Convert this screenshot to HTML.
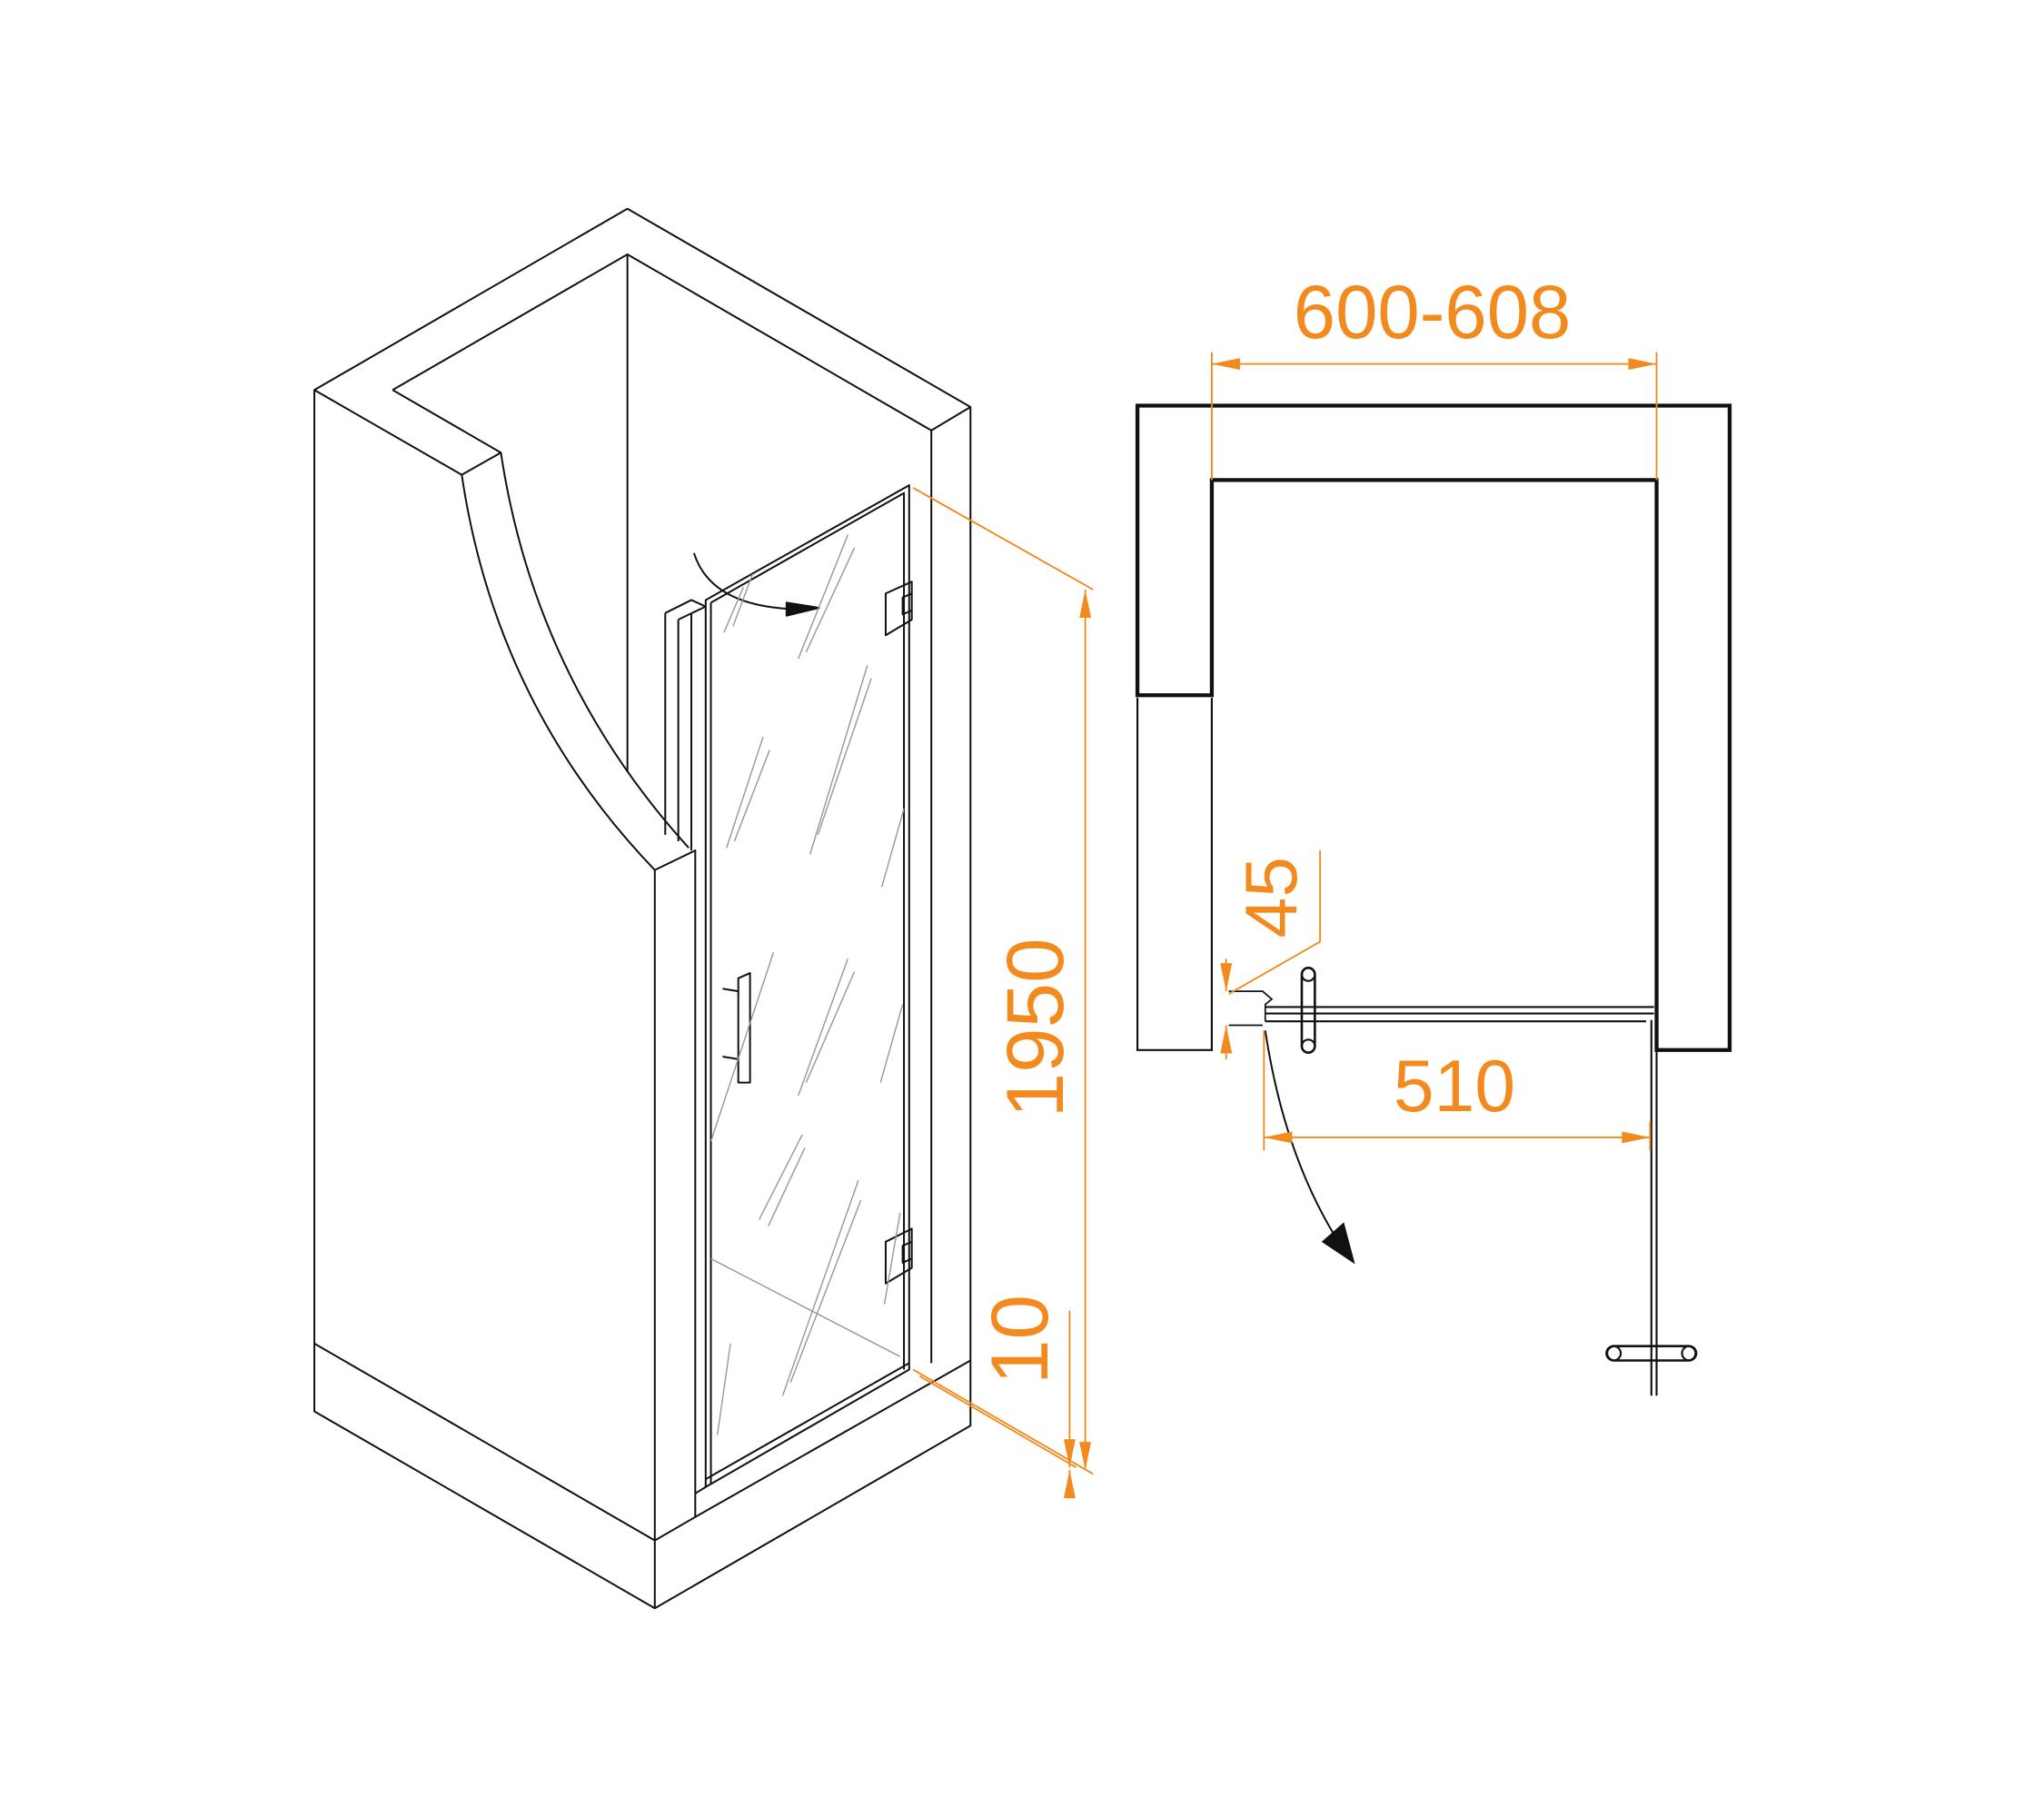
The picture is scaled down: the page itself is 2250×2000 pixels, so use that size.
<!DOCTYPE html>
<html><head><meta charset="utf-8"><style>html,body{margin:0;padding:0;background:#fff}svg{display:block}</style></head>
<body>
<svg width="2250" height="2000" viewBox="0 0 1567 1393" preserveAspectRatio="none" xmlns="http://www.w3.org/2000/svg">
<defs>
<marker id="oa" viewBox="0 0 24 10" refX="24" refY="5" markerWidth="24" markerHeight="9" orient="auto-start-reverse" markerUnits="userSpaceOnUse"><path d="M0,0L24,5L0,10z" fill="#f28a1e"/></marker>
</defs>
<g fill="none" stroke="#111" stroke-width="1.4" stroke-linejoin="round">
<path d="M241,299 L481,160 L744,312 L744,1093 L502,1233 L241,1082 Z"/>
<path d="M241,1030 L502,1181 L502,1233"/>
<path d="M533,1163 L744,1043"/>
<path d="M744,312 L714,330 L714,1045"/>
<path d="M301,299 L481,195 L714,330"/>
<path d="M481,195 L481,592"/>
<path d="M241,299 L354,364 L384,347 L301,299"/>
<path d="M354,364 Q380,540 502,667 L533,652 L533,1163 L502,1181 L502,667"/>
<path d="M384,347 Q410,520 528,650"/>
<path d="M510,470 L510,640 M520,475 L520,645 M530,470 L530,652 M510,470 L530,460 L541,465 M520,475 L541,465"/>
<path d="M541,460 L697,372 L697,1050 L541,1140 Z"/>
<path d="M545,462 L693,378 L693,1050 M545,462 L545,1138"/>
<path d="M541,1134 L697,1045 M541,1140 L533,1145"/>
<path d="M679,455 L699,446 L699,475 L679,487 Z M692,458 L699,455 L699,468 L692,471 Z"/>
<path d="M679,952 L699,942 L699,972 L679,984 Z M692,955 L699,952 L699,965 L692,968 Z"/>
<path d="M566,750 L575,746 L575,830 L566,830 Z"/>
<path d="M554,758 L566,760 M554,810 L566,812"/>
<path d="M532,424 Q545,465 610,467"/>
<path d="M603,462 L628,466 L603,472 Z" fill="#111"/>
</g>
<g stroke="#999" stroke-width="1" fill="none">
<path d="M555,485 L570,450 M562,480 L577,440 M612,505 L650,410 M618,500 L655,420 M621,655 L665,510 M627,640 L668,520 M557,650 L585,565 M563,645 L590,575 M612,840 L650,735 M618,830 L655,745 M600,1070 L658,905 M606,1060 L660,920 M582,935 L615,870 M589,940 L617,880 M545,875 L593,730 M550,1100 L560,1030 M678,1000 L690,930 M675,830 L692,770 M676,680 L693,620 M545,965 L690,1040"/>
</g>
<g fill="none" stroke="#111">
<path d="M872,533 L872,311 L1326,311 L1326,805 L1270,805 L1270,368 L929,368 L929,533 Z" stroke-width="3"/>
<path d="M872,535 L872,805 L929,805 L929,535" stroke-width="1.5"/>
<path d="M970,772 L1268,772 M970,777 L1268,777 M970,783 L1262,783" stroke-width="1.5"/>
<path d="M970,783 L970,770 L975,766 L968,760 L942,760 M942,786 L968,786" stroke-width="1.2"/>
<path d="M1266,782 L1266,1070 M1270,782 L1270,1070" stroke-width="1.5"/>
<rect x="998" y="742" width="10" height="65" rx="5" stroke-width="1.8"/>
<circle cx="1003" cy="747" r="5" stroke-width="1.5"/><circle cx="1003" cy="802" r="5" stroke-width="1.5"/>
<rect x="1232" y="1032" width="68" height="11" rx="5.5" stroke-width="1.8"/>
<circle cx="1237" cy="1037.5" r="5.5" stroke-width="1.5"/><circle cx="1295" cy="1037.5" r="5.5" stroke-width="1.5"/>
<path d="M970,790 Q985,890 1030,958" stroke-width="1.4"/>
<path d="M1014,952 L1038,968 L1030,938 Z" fill="#111"/>
</g>
<g stroke="#f28a1e" stroke-width="1.3" fill="none">
<path d="M700,374 L838,452 M700,1050 L838,1130 M705,1055 L825,1125"/>
<path d="M832,452 L832,1127" marker-start="url(#oa)" marker-end="url(#oa)"/>
<path d="M820,1005 L820,1125" marker-end="url(#oa)"/>
<path d="M820,1142 L820,1127" marker-end="url(#oa)"/>
<path d="M929,270 L929,368 M1270,270 L1270,368"/>
<path d="M929,279 L1270,279" marker-start="url(#oa)" marker-end="url(#oa)"/>
<path d="M942,762 L1012,722 L1012,652"/>
<path d="M940,735 L940,760" marker-end="url(#oa)"/>
<path d="M940,812 L940,786" marker-end="url(#oa)"/>
<path d="M969,790 L969,882 M1265,860 L1265,882"/>
<path d="M969,872 L1265,872" marker-start="url(#oa)" marker-end="url(#oa)"/>
</g>
<g fill="#f28a1e" font-family="Liberation Sans, sans-serif" text-anchor="middle">
<text x="1098" y="259" font-size="58">600-608</text>
<text x="1115" y="852" font-size="56">510</text>
<text transform="translate(815,788) rotate(-90)" font-size="62">1950</text>
<text transform="translate(803,1027) rotate(-90)" font-size="62">10</text>
<text transform="translate(994,688) rotate(-90)" font-size="56">45</text>
</g>
</svg>
</body></html>
